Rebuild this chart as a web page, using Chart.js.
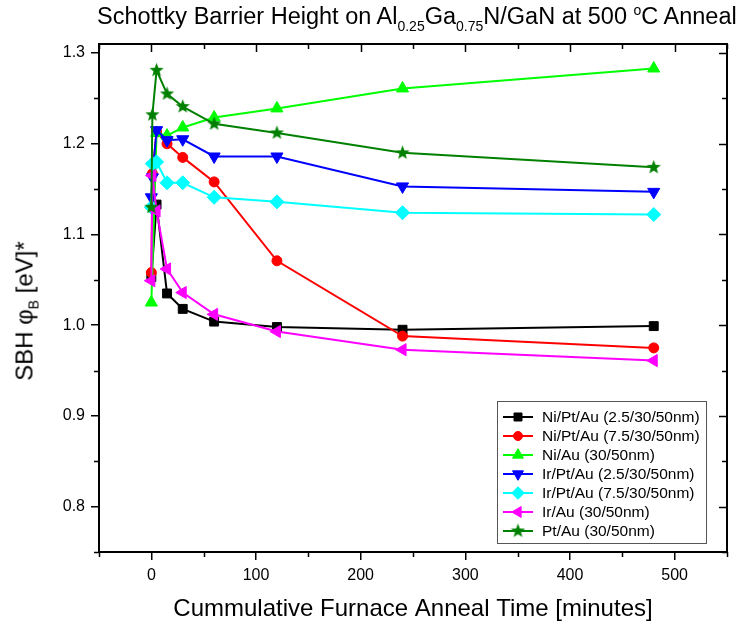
<!DOCTYPE html>
<html>
<head>
<meta charset="utf-8">
<script src="https://cdn.jsdelivr.net/npm/chart.js@4.4.1/dist/chart.umd.min.js"></script>
<style>
  body { margin: 0; background: #fff; }
  #wrap { position: relative; width: 751px; height: 632px; font-family: "Liberation Sans", Arial, sans-serif; color: #000; }
  #title { position: absolute; left: 97px; top: 2px; font-size: 23.5px; white-space: nowrap; }
  #title sub { font-size: 14px; vertical-align: -7px; }
  #title sup { font-size: 14px; vertical-align: 9px; }
  #ylabel { position: absolute; left: 26px; top: 311px; font-size: 24px; white-space: nowrap;
            transform: translate(-50%, -50%) rotate(-90deg); }
  #ylabel sub { font-size: 14px; vertical-align: -6px; }
</style>
</head>
<body>
<div id="wrap">
  <canvas id="sbhChart" width="751" height="632"></canvas>
  <div id="title">Schottky Barrier Height on Al<sub>0.25</sub>Ga<sub>0.75</sub>N/GaN at 500 <sup>o</sup>C Anneal</div>
  <div id="ylabel">SBH &#966;<sub>B</sub> [eV]*</div>
</div>
<script>
// anneal times (minutes)
const times = [0, 1, 5, 15, 30, 60, 120, 240, 480];

// barrier heights (eV), null = no point at that time
const niPtAu25 = [1.053, null, 1.133, 1.035, 1.018, 1.004, 0.998, 0.995, 0.999];
const niPtAu75 = [1.058, 1.167, 1.213, 1.200, 1.185, 1.158, 1.071, 0.988, 0.975];
const niAu     = [1.025, null, 1.212, 1.209, 1.218, 1.229, 1.239, 1.261, 1.283];
const irPtAu25 = [1.141, 1.163, 1.215, 1.204, 1.205, 1.186, 1.186, 1.153, 1.147];
const irPtAu75 = [1.130, 1.178, 1.180, 1.157, 1.157, 1.141, 1.136, 1.124, 1.122];
const irAu     = [1.049, 1.165, 1.126, 1.062, 1.036, 1.012, 0.993, 0.973, 0.961];
const ptAu     = [1.130, 1.232, 1.281, 1.255, 1.241, 1.222, 1.212, 1.190, 1.174];

const seriesLabels = [
    'Ni/Pt/Au (2.5/30/50nm)',
    'Ni/Pt/Au (7.5/30/50nm)',
    'Ni/Au (30/50nm)',
    'Ir/Pt/Au (2.5/30/50nm)',
    'Ir/Pt/Au (7.5/30/50nm)',
    'Ir/Au (30/50nm)',
    'Pt/Au (30/50nm)'
];

const xTicks = [0, 100, 200, 300, 400, 500];
const yTicks = [0.8, 0.9, 1.0, 1.1, 1.2, 1.3];

// filled five point star, chart.js only has the outline one
function starImage(color, r) {
    const c = document.createElement('canvas');
    const s = Math.ceil(r * 2 + 2);
    c.width = c.height = s;
    const g = c.getContext('2d');
    g.fillStyle = color;
    g.beginPath();
    for (let i = 0; i < 10; i++) {
        const rad = i % 2 ? r * 0.42 : r;
        const a = -Math.PI / 2 + i * Math.PI / 5;
        g.lineTo(s / 2 + rad * Math.cos(a), s / 2 + rad * Math.sin(a));
    }
    g.closePath();
    g.fill();
    return c;
}

function makeSet(i, values, color, style, radius, rotation) {
    return {
        label: seriesLabels[i],
        data: times.map((t, k) => ({ x: t, y: values[k] })).filter(p => p.y !== null),
        borderColor: color,
        backgroundColor: color,
        borderWidth: 2,
        pointStyle: style,
        pointRadius: radius,
        pointHoverRadius: radius,
        pointRotation: rotation || 0,
        pointBorderWidth: 1,
        order: 7 - i
    };
}

const datasets = [
    makeSet(0, niPtAu25, '#000000', 'rect', 6.3),
    makeSet(1, niPtAu75, '#ff0000', 'circle', 5),
    makeSet(2, niAu, '#00ff00', 'triangle', 7),
    makeSet(3, irPtAu25, '#0000ff', 'triangle', 7, 180),
    makeSet(4, irPtAu75, '#00ffff', 'rectRot', 7),
    makeSet(5, irAu, '#ff00ff', 'triangle', 7, 270),
    makeSet(6, ptAu, '#008000', starImage('#008000', 7.5), 7)
];

// box frame with inward ticks on top/right and short minor ticks
const frameTicks = {
    id: 'frameTicks',
    afterDraw(chart) {
        const { ctx, chartArea: a, scales: { x, y } } = chart;
        ctx.save();
        ctx.strokeStyle = '#000';
        ctx.lineWidth = 2;
        ctx.strokeRect(a.left, a.top, a.right - a.left, a.bottom - a.top);
        ctx.lineWidth = 1.5;
        ctx.beginPath();
        for (let v = -50; v <= 550; v += 50) {
            const px = Math.round(x.getPixelForValue(v)) + 0.5;
            const major = xTicks.includes(v);
            const len = major ? 8 : 5;
            ctx.moveTo(px, a.top);
            ctx.lineTo(px, a.top + len);
            if (!major) {
                ctx.moveTo(px, a.bottom);
                ctx.lineTo(px, a.bottom + len);
            }
        }
        for (let k = 15; k <= 26; k++) {
            const v = k * 0.05;
            const py = Math.round(y.getPixelForValue(v)) + 0.5;
            const major = k % 2 === 0;
            const len = major ? 8 : 5;
            ctx.moveTo(a.right, py);
            ctx.lineTo(a.right - len, py);
            if (!major) {
                ctx.moveTo(a.left, py);
                ctx.lineTo(a.left - len, py);
            }
        }
        ctx.stroke();
        ctx.restore();
    }
};

// legend box inside the plot, lower right
const boxLegend = {
    id: 'boxLegend',
    afterDraw(chart) {
        const ctx = chart.ctx;
        const left = 497, top = 401, w = 209, h = 142, rowH = 19, firstRow = 417;
        ctx.save();
        ctx.fillStyle = '#fff';
        ctx.fillRect(left, top, w, h);
        ctx.strokeStyle = '#555';
        ctx.lineWidth = 1;
        ctx.strokeRect(left + 0.5, top + 0.5, w, h);
        ctx.font = '15.5px "Liberation Sans", Arial, sans-serif';
        ctx.textBaseline = 'middle';
        chart.data.datasets.forEach((d, i) => {
            const yy = firstRow + i * rowH;
            ctx.strokeStyle = d.borderColor;
            ctx.fillStyle = d.backgroundColor;
            ctx.lineWidth = 2;
            ctx.beginPath();
            ctx.moveTo(left + 6, yy);
            ctx.lineTo(left + 36, yy);
            ctx.stroke();
            ctx.lineWidth = 1;
            Chart.helpers.drawPoint(ctx, {
                pointStyle: d.pointStyle,
                radius: d.pointRadius * 0.9,
                rotation: d.pointRotation,
                borderWidth: 1
            }, left + 21, yy);
            ctx.fillStyle = '#000';
            ctx.fillText(d.label, left + 45, yy + 1);
        });
        ctx.restore();
    }
};

const ctx = document.getElementById('sbhChart').getContext('2d');
const sbhChart = new Chart(ctx, {
    type: 'line',
    data: { datasets: datasets },
    plugins: [frameTicks, boxLegend],
    options: {
        responsive: false,
        animation: false,
        spanGaps: true,
        layout: { padding: { top: 44, right: 24, left: 0, bottom: 0 } },
        plugins: {
            legend: { display: false },
            tooltip: { enabled: false },
            title: { display: false }
        },
        scales: {
            x: {
                type: 'linear',
                min: -50,
                max: 550,
                afterFit: s => { s.height = 80; },
                afterBuildTicks: s => { s.ticks = xTicks.map(v => ({ value: v })); },
                ticks: { color: '#000', padding: 6, font: { size: 16, family: '"Liberation Sans", Arial' } },
                grid: { drawOnChartArea: false, drawTicks: true, tickLength: 8, color: '#000', lineWidth: 1.5 },
                border: { display: true, color: '#000', width: 2 },
                title: {
                    display: true,
                    text: 'Cummulative Furnace Anneal Time [minutes]',
                    color: '#000',
                    font: { size: 24, family: '"Liberation Sans", Arial' },
                    padding: { top: 0, bottom: 8 }
                }
            },
            y: {
                min: 0.75,
                max: 1.31,
                afterFit: s => { s.width = 99; },
                afterBuildTicks: s => { s.ticks = yTicks.map(v => ({ value: v })); },
                ticks: {
                    color: '#000', padding: 6,
                    font: { size: 16, family: '"Liberation Sans", Arial' },
                    callback: v => v.toFixed(1)
                },
                grid: { drawOnChartArea: false, drawTicks: true, tickLength: 8, color: '#000', lineWidth: 1.5 },
                border: { display: true, color: '#000', width: 2 }
            }
        }
    }
});
</script>
</body>
</html>
